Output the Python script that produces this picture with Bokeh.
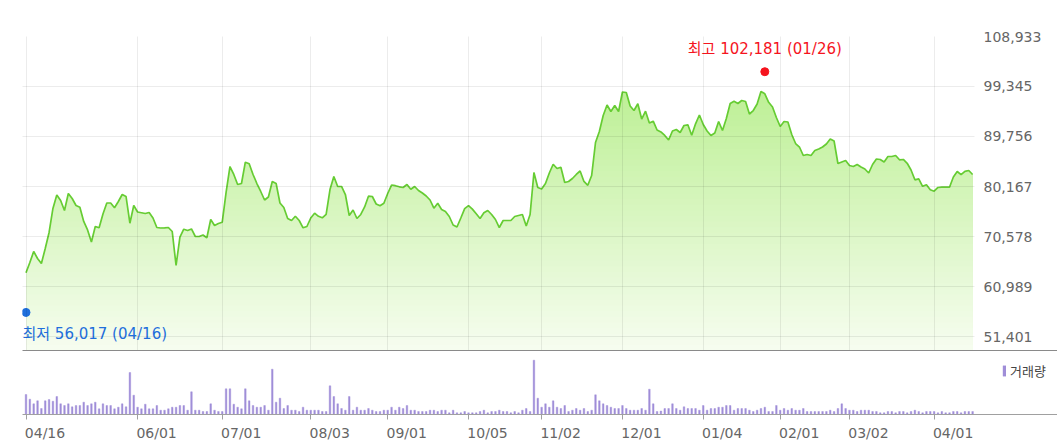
import numpy as np
import pandas as pd
from bokeh.plotting import figure
from bokeh.layouts import column
from bokeh.models import (Range1d, FixedTicker, NumeralTickFormatter, LinearAxis,
                          Legend, LegendItem)
from bokeh.core.properties import value
from bokeh.embed import file_html
from bokeh.resources import INLINE

# ---------------- data ----------------
start_date = "2020-04-16"
end_date = "2021-04-15"
holidays = ["2020-04-30", "2020-05-01", "2020-05-05", "2020-08-17", "2020-09-30",
            "2020-10-01", "2020-10-02", "2020-10-09", "2020-12-25", "2020-12-31",
            "2021-01-01", "2021-02-11", "2021-02-12", "2021-03-01"]

close = [
    63620, 65590, 67700, 66360, 65400, 68280, 71350, 75950, 78540, 77480,
    75560, 78820, 77870, 76520, 76200, 73460, 71830, 69520, 72500, 72250,
    74890, 77000, 77000, 76080, 77290, 78630, 78250, 73130, 76520, 75280,
    75140, 74990, 75180, 74130, 72300, 72210, 72250, 72300, 71540, 65020,
    70480, 71980, 71730, 72020, 70580, 70580, 70870, 70330, 73840, 72690,
    73070, 73320, 79020, 84000, 82470, 80550, 80740, 84830, 84520, 82470,
    80740, 79210, 77580, 78150, 81130, 80740, 77000, 76140, 74030, 73650,
    74470, 73650, 72250, 72500, 74130, 75050, 74450, 74160, 74840, 79590,
    82080, 80170, 80170, 78630, 74610, 75660, 74030, 74800, 76240, 78310,
    78250, 76810, 76470, 76950, 78820, 80450, 80320, 80110, 79980, 80550,
    79630, 80170, 79400, 78920, 78350, 77580, 76010, 76950, 75760, 75370,
    74410, 72780, 72400, 74130, 75910, 76490, 75830, 74930, 74030, 75120,
    75560, 74800, 73840, 72300, 73650, 73650, 73650, 74410, 74610, 74800,
    72590, 74800, 82850, 79980, 79690, 80740, 82760, 84440, 83620, 83870,
    80930, 81130, 81700, 82470, 83140, 81130, 80400, 82280, 88610, 90710,
    93780, 95800, 94550, 95700, 94550, 98290, 98190, 95600, 94740, 96030,
    93110, 94610, 92340, 92690, 91000, 90620, 89950, 89080, 90810, 91100,
    90520, 91870, 92000, 89990, 92190, 93880, 92060, 90810, 89950, 90430,
    92630, 90910, 93210, 96080, 96510, 96080, 96660, 96470, 94070, 94740,
    95990, 98390, 97940, 96310, 95410, 93400, 91670, 92630, 92540, 90140,
    88410, 87740, 86110, 86300, 86110, 87070, 87360, 87740, 88320, 89280,
    88890, 84580, 84870, 85150, 84190, 84000, 84390, 83910, 83520, 82760,
    84390, 85440, 85350, 84870, 85920, 85920, 86110, 85290, 85350, 84620,
    83330, 81450, 81640, 80210, 80510, 79550, 79270, 79980, 80030, 80030,
    80030, 81990, 83040, 82430, 83080, 83240, 82470,
]

volume = [
    20, 15.3, 10.7, 13.7, 6, 13.7, 15, 13.3, 18, 10.7,
    9, 10.7, 7.7, 9, 9, 12.3, 9, 10.7, 12.3, 5.7,
    10.7, 9, 9, 5.7, 7.3, 10.7, 7.7, 42, 19.3, 7.3,
    5.7, 10.3, 5.7, 5.7, 9, 4.3, 4.3, 5.7, 7.3, 7.3,
    9, 9, 4.3, 22.7, 4.3, 4.3, 3, 3, 10.7, 4.3,
    3, 3, 25.7, 25.7, 10.3, 7.3, 5.7, 25.7, 13.7, 9,
    7.3, 7.3, 9, 4.3, 45.3, 12.3, 16.3, 6, 9, 4.3,
    4.3, 3, 7.3, 4.3, 4.3, 4.3, 4.3, 3, 3, 28.7,
    18, 10.7, 6, 4.3, 18, 4.3, 7.3, 4.3, 4.3, 6,
    4.3, 3, 3, 4.3, 4.3, 7.3, 4.3, 7.3, 6, 9,
    4.3, 4.3, 3, 3, 3, 4.3, 4.3, 3, 4.3, 4.3,
    1.7, 4.3, 1.7, 1.7, 3, 1.7, 1.7, 1.7, 3, 4.3,
    1.7, 3, 3, 4.3, 3, 3, 1.7, 3, 1.7, 4.3,
    6, 3, 54.3, 16.3, 7.3, 10.7, 7.3, 13.7, 7.3, 6,
    9, 3, 4.3, 6, 4.3, 6, 3, 4.3, 19.7, 13.7,
    10.7, 9, 7.3, 6, 6, 9, 6, 4.3, 4.3, 4.3,
    6, 4.3, 25.3, 10.7, 3, 3.5, 6, 6, 10.7, 6,
    4.3, 7.7, 6, 6, 6, 4.3, 9, 4.3, 6, 6,
    7.3, 7.3, 9, 9, 4.3, 6, 6, 6, 4.3, 3,
    4.3, 6, 7.3, 3, 3, 9, 4.3, 6, 4.3, 6,
    4.3, 4.3, 6, 3, 3, 3, 3, 3, 3, 4.3,
    3, 6, 10.7, 6, 4.3, 4.3, 3, 4.3, 4.3, 4.3,
    3, 3, 1.7, 1.7, 3, 3, 1.7, 3, 3, 1.7,
    3, 4.3, 3, 1.7, 3, 3, 3, 1.7, 3, 1.7,
    1.7, 3, 3, 1.7, 3, 3, 3,
]

price_ticks = [51401, 60989, 70578, 80167, 89756, 99345, 108933]
tick_dates = ["2020-04-16", "2020-06-01", "2020-07-01", "2020-08-03", "2020-09-01",
              "2020-10-05", "2020-11-02", "2020-12-01", "2021-01-04", "2021-02-01",
              "2021-03-02", "2021-04-01"]
high_value, high_date = 102181, "2021-01-26"
low_value, low_date = 56017, "2020-04-16"
high_label = "최고 102,181 (01/26)"
low_label = "최저 56,017 (04/16)"
volume_label = "거래량"

# ---------------- dates / positions ----------------
dates = pd.bdate_range(start_date, end_date)
dates = dates[~dates.isin(pd.to_datetime(holidays))]
n = min(len(dates), len(close), len(volume))
dates = dates[:n]
idx = np.arange(n)
close_arr = np.array(close[:n], dtype=float)
vol_arr = np.array(volume[:n], dtype=float)
pos = {d.strftime("%Y-%m-%d"): i for i, d in enumerate(dates)}
tick_pos = [pos[d] for d in tick_dates if d in pos]
hi_i = pos.get(high_date, int(np.argmax(close_arr)))
lo_i = pos.get(low_date, 0)

# ---------------- layout constants ----------------
PX_DAY = 3.848
W = 1057
LB = 22
PRICE_FW = 952
VOL_FW = W - LB
x_start = -3.5 / PX_DAY
step = price_ticks[1] - price_ticks[0]
y_hi = price_ticks[-1]
y_lo = price_ticks[0] - step * 14 / 50
LABEL_SHIFT = 19.0 / PX_DAY   # date labels start at their tick mark

label_pos = [float(t) + LABEL_SHIFT for t in tick_pos]
label_txt = {lp: pd.Timestamp(d).strftime("%m/%d")
             for lp, d in zip(label_pos, [d for d in tick_dates if d in pos])}

AX_FONT = "DejaVu Sans"
ANN_FONT = "DejaVu Sans, Noto Sans CJK KR"

# ---------------- price figure ----------------
p = figure(width=W, height=350, output_backend="svg", toolbar_location=None,
           x_range=Range1d(x_start, x_start + PRICE_FW / PX_DAY),
           y_range=Range1d(y_lo, y_hi),
           x_axis_location=None, y_axis_location="right",
           min_border_left=LB, min_border_right=W - LB - PRICE_FW,
           min_border_top=36, min_border_bottom=0)
p.frame_align = False
p.outline_line_color = None
p.background_fill_color = "white"
p.border_fill_color = "white"

top_rgb = np.array([178, 237, 132], dtype=float)
bot_rgb = np.array([247, 253, 241], dtype=float)
N_LAYERS = 56
levels = np.linspace(y_lo, y_hi, N_LAYERS + 1)[1:]
lstep = levels[1] - levels[0]
cmax = close_arr.max()
for hi in levels[::-1]:
    if hi - lstep > cmax:
        continue
    t = (hi - y_lo) / (y_hi - y_lo)
    rgb = bot_rgb + t * (top_rgb - bot_rgb)
    col = "#%02x%02x%02x" % tuple(int(round(c)) for c in rgb)
    p.varea(x=idx, y1=y_lo, y2=np.minimum(close_arr, hi), fill_color=col, fill_alpha=1.0)

p.line(idx, close_arr, line_color="#66cc33", line_width=1.7)

p.xgrid.ticker = FixedTicker(ticks=tick_pos)
p.ygrid.ticker = FixedTicker(ticks=price_ticks)
for g in (p.xgrid, p.ygrid):
    g.grid_line_color = "black"
    g.grid_line_alpha = 0.075
    g.grid_line_width = 1
    g.level = "guide"

ya = p.yaxis[0]
ya.ticker = FixedTicker(ticks=price_ticks)
ya.formatter = NumeralTickFormatter(format="0,0")
ya.axis_line_color = None
ya.major_tick_line_color = None
ya.minor_tick_line_color = None
ya.major_tick_out = 0
ya.major_tick_in = 0
ya.minor_tick_out = 0
ya.major_label_standoff = 9
ya.major_label_text_font = AX_FONT
ya.major_label_text_font_size = "14px"
ya.major_label_text_color = "#666666"

# high / low markers
p.scatter([hi_i], [high_value], size=8, color="#f5141e")
p.text([hi_i], [high_value], text=[high_label], text_align="center",
       text_baseline="alphabetic", y_offset=-23, text_color="#f5141e",
       text_font=value(ANN_FONT), text_font_size="15px")
p.scatter([lo_i], [low_value], size=8, color="#1f6fdc")
p.text([lo_i], [low_value], text=[low_label], text_align="left",
       text_baseline="alphabetic", x_offset=-3.5, y_offset=22, text_color="#1f6fdc",
       text_font=value(ANN_FONT), text_font_size="15px")

# ---------------- volume figure ----------------
v = figure(width=W, height=96, output_backend="svg", toolbar_location=None,
           x_range=Range1d(x_start, x_start + VOL_FW / PX_DAY),
           y_range=Range1d(0, 64),
           x_axis_location="below", y_axis_location=None,
           min_border_left=LB, min_border_right=0,
           min_border_top=0, min_border_bottom=32)
v.frame_align = False
v.outline_line_color = None
v.grid.visible = False

bars = v.vbar(x=idx, top=vol_arr, bottom=0, width=0.42,
              fill_color="#a08ed8", line_color="#a08ed8", line_width=0.4)

top_axis = LinearAxis(ticker=FixedTicker(ticks=[]), axis_line_color="#8a8a8a",
                      axis_line_width=1, major_tick_line_color=None,
                      minor_tick_line_color=None, major_tick_out=0, minor_tick_out=0,
                      major_tick_in=0, minor_tick_in=0, major_label_standoff=0,
                      major_label_text_font_size="0px")
v.add_layout(top_axis, "above")

# one date axis: tick marks (as minor ticks) at the dates, labels starting there
xa = v.below[0]
xa.ticker = FixedTicker(ticks=label_pos, minor_ticks=tick_pos)
xa.major_label_overrides = label_txt
xa.axis_line_color = "#a0a0a0"
xa.major_tick_line_color = None
xa.major_tick_out = 5
xa.major_tick_in = 0
xa.minor_tick_line_color = "#a0a0a0"
xa.minor_tick_out = 5
xa.minor_tick_in = 0
xa.major_label_standoff = 5
xa.major_label_text_font = AX_FONT
xa.major_label_text_font_size = "14px"
xa.major_label_text_color = "#666666"

legend = Legend(items=[LegendItem(label=volume_label, renderers=[bars])],
                location="top_right", glyph_width=4, glyph_height=13, label_height=13,
                label_width=30, label_standoff=4, padding=0, margin=11, spacing=0,
                background_fill_alpha=0, border_line_alpha=0,
                label_text_font="Noto Sans CJK KR", label_text_font_size="13px",
                label_text_color="#444444")
v.add_layout(legend)

layout = column(p, v, spacing=0)
open("out.html", "w").write(file_html(layout, INLINE))
